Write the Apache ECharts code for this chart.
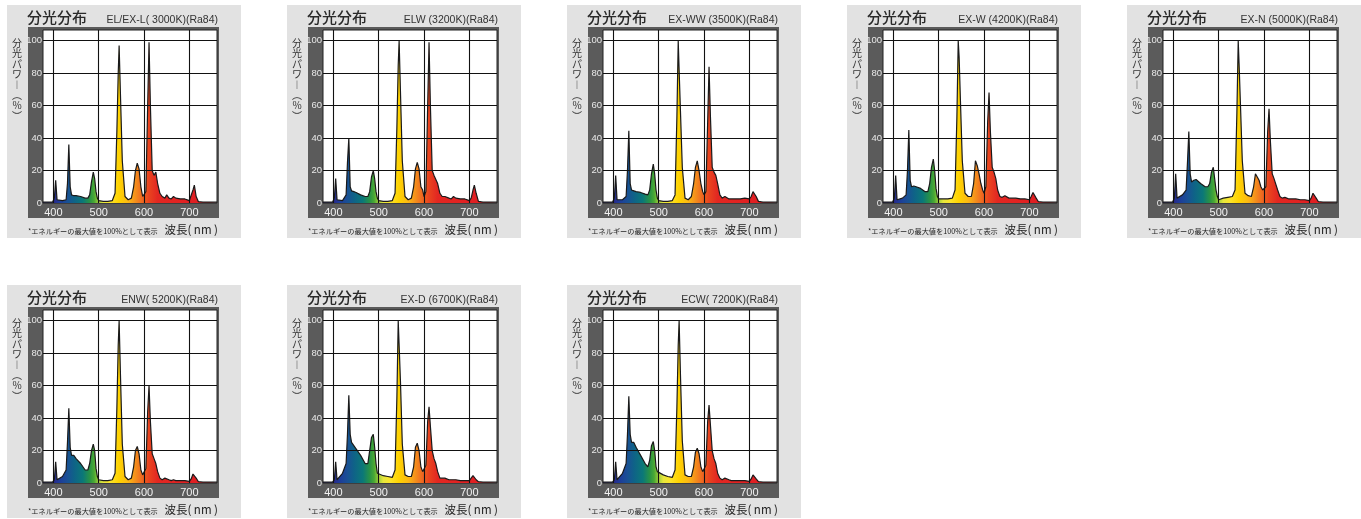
<!DOCTYPE html>
<html><head><meta charset="utf-8">
<script src="https://cdn.jsdelivr.net/npm/echarts@6/dist/echarts.min.js"></script>
<style>html,body{margin:0;padding:0;background:#fff}#c{width:1361px;height:519px}</style>
</head><body><div id="c"></div>
<script>
// ---- data ----
const wavelengths = [377, 398, 402, 405, 408, 412, 420, 428, 431, 434, 437, 440, 445, 450, 460, 470, 476, 480, 484, 488, 491, 494, 497, 500, 510, 520, 530, 536, 540, 543, 545, 548, 552, 558, 565, 572, 577, 581, 585, 589, 593, 597, 600, 604, 608, 611, 614, 618, 622, 626, 630, 635, 640, 646, 650, 655, 660, 665, 670, 680, 690, 700, 704, 708, 711, 715, 720, 730, 745, 761];

const elExL3000 = [0.5,0.5,3,14,2,1,1.5,2,12,36, 10,5,4.5,4.5,4,3,3,5,13,19, 15,7,3,1.5,1,1,1.5,6,44,80, 97,66,26,4,2,3,10,20,24.5,21, 10,4,3,7,60,99,60,20,17,19, 12,6,4,3,5,3,2.5,4,3,2.5, 2.5,1.5,2,8,11,4,0.8,0.5,0.5,0.5];
const elw3200 = [0.5,0.5,3,15,2,1,1.5,5,25,40, 10,7.5,7,6.5,5,4,4,7,16,20, 15,7,3,1.5,1,1,1.5,6,46,85, 100,68,26,4,2,3,10,21,25,21, 10,8,4,7,60,99,60,20,17,18, 12,6,4,4,5,3,2.5,4,3,2.5, 2.5,1.5,3,8,11,6,1,0.5,0.5,0.5];
const exWw3500 = [0.5,0.5,3,17,2,1.5,2,4,20,44.5, 12,8,7.5,7,6.5,5.5,5,8,18,24, 18,8,3,1.5,1,1,1.5,5,52,100, 82,56,22,3,2,4,12,22,26,20, 12,7,5,7,50,84,54,22,19,17, 12,5,3,4,3,2.5,2.5,2.5,2.5,2.5, 3,2.5,4,7,8,4,1,0.5,0.5,0.5];
const exW4200 = [0.5,0.5,3,17,2,1.5,3,5,20,45, 14,10,10.5,10,9,7,7,12,22,27, 20,9,4,2.5,2.5,2.5,3,8,52,100, 90,62,26,6,4,4,12,26,23,18, 12,8,6,10,50,68,44,22,19,15, 8,4,3.5,4.5,3.5,3,3,3,3,2.5, 2.5,2,4,6.5,6,3,0.8,0.5,0.5,0.5];
const exN5000 = [0.5,0.5,3,18,3,2,5,8,25,44, 18,13,14,14.5,12,10,10,12,19,22, 15,8,4,2,3,3.5,4,8,55,100, 85,60,26,6,4.5,4,10,18,19,14, 10,8,7,10,44,58,38,18,15,14, 8,4,3,3.5,3,2.5,2.5,2.5,2.5,2, 2,1.5,3,6,6,3,0.8,0.5,0.5,0.5];
const enw5200 = [0.5,0.5,2,13,2,1,4,8,25,46, 22,17,17,15,12,8,8,12,20,24, 20,9,4,2,1.5,1.5,2,6,46,85, 100,66,24,4,2,3,10,20,22.5,18, 8,5,5,9,44,60,38,18,15,12, 7,3,2,3,2.5,2,1.5,2,1.5,1.5, 1.5,1,2.5,5.5,6,3,0.8,0.5,0.5,0.5];
const exD6700 = [0.5,0.5,2,13,2,2.5,6,12,30,54, 30,25,23,21,17,12,12,20,28,30, 22,12,6,5,4.5,4,3.5,8,52,100, 85,62,24,5,4,4,10,22,24.5,20, 10,7,7,11,38,47,35,20,15,12, 7,3,3,3,2.5,2,2,2,2,1.5, 1.5,1.5,3,4.5,4,2,0.8,0.5,0.5,0.5];
const ecw7200 = [0.5,0.5,2,13,2,2,6,12,30,53.5, 30,25,25,22,17,12,10,14,23,25.5, 20,10,7,6,5,4,3.5,8,46,85, 100,66,26,5,4,4,10,19,21.4,18, 10,7,7,11,38,48,36,20,15,12, 6,3,2,3,2.5,2,1.5,1.5,1.5,1.5, 1.5,1,2.5,5,5.5,2.5,0.8,0.5,0.5,0.5];

const panelTitles = ['EL/EX-L( 3000K)(Ra84)', 'ELW (3200K)(Ra84)', 'EX-WW (3500K)(Ra84)', 'EX-W (4200K)(Ra84)', 'EX-N (5000K)(Ra84)', 'ENW( 5200K)(Ra84)', 'EX-D (6700K)(Ra84)', 'ECW( 7200K)(Ra84)'];
const panelValues = [elExL3000, elw3200, exWw3500, exW4200, exN5000, enw5200, exD6700, ecw7200];

const xTickLabels = [400, 500, 600, 700];
const yGridValues = [20, 40, 60, 80, 100];
const heading = '分光分布';
const yName = '分\n光\nパ\nワ\n︱\n︵\n%\n︶';
const footNote = '*エネルギーの最大値を100%として表示';
const xName = '波長( nm )';

// wavelength -> colour stops
const spectrumStops = [
  [377, '#202070'], [400, '#28288a'], [415, '#1d3d99'], [430, '#1a4f95'], [445, '#0f6288'],
  [465, '#0b7878'], [480, '#289246'], [490, '#4aa934'], [500, '#a6d03c'], [510, '#e6e63c'],
  [525, '#fbe42a'], [545, '#ffd200'], [565, '#fcb814'], [580, '#f5921c'], [595, '#ef6a20'],
  [610, '#e9451f'], [630, '#e32722'], [761, '#df1a22']
];

// ---- chart ----
const chart = echarts.init(document.getElementById('c'), null, {renderer: 'canvas'});
const wMin = wavelengths[0], wMax = wavelengths[wavelengths.length - 1];
const gradStops = spectrumStops.map(s => ({offset: (s[0] - wMin) / (wMax - wMin), color: s[1]}));

const grids = [], xAxes = [], yAxes = [], series = [], elements = [];
const CJK = '"Noto Sans CJK JP", "Noto Sans", sans-serif';
const LAT = '"Liberation Sans", Arial, sans-serif';

panelValues.forEach((vals, i) => {
  const col = i < 5 ? i : i - 5;
  const row = i < 5 ? 0 : 1;
  const gx = 7 + 280 * col;
  const gy = 5 + 280 * row;

  elements.push({type: 'rect', z: -10, silent: true, shape: {x: gx, y: gy, width: 234, height: 233}, style: {fill: '#e2e2e2'}});
  elements.push({type: 'rect', z: -9, silent: true, shape: {x: gx + 21, y: gy + 22, width: 191, height: 191}, style: {fill: '#5b5b5b'}});
  elements.push({type: 'text', z: 5, silent: true, style: {text: heading, x: gx + 20, y: gy + 12, font: '500 15px ' + CJK, fill: '#2a2a2a', textAlign: 'left', textVerticalAlign: 'middle'}});
  elements.push({type: 'text', z: 5, silent: true, style: {text: panelTitles[i], x: gx + 211, y: gy + 15, font: '10.5px ' + LAT, fill: '#333', textAlign: 'right', textVerticalAlign: 'middle'}});
  elements.push({type: 'text', z: 5, silent: true, style: {text: yName, x: gx + 10, y: gy + 33, font: '10px ' + CJK, lineHeight: 10.4, fill: '#333', textAlign: 'center', textVerticalAlign: 'top'}});
  elements.push({type: 'text', z: 5, silent: true, style: {text: footNote, x: gx + 21, y: gy + 226, font: '7.2px ' + CJK, fill: '#222', textAlign: 'left', textVerticalAlign: 'middle'}});
  elements.push({type: 'text', z: 5, silent: true, style: {text: xName, x: gx + 211, y: gy + 225, font: '11.5px ' + CJK, fill: '#222', textAlign: 'right', textVerticalAlign: 'middle'}});

  grids.push({left: gx + 36, top: gy + 25, width: 174, height: 173, show: true, backgroundColor: '#ffffff', borderColor: '#222', borderWidth: 1, z: 1});
  xAxes.push({
    type: 'value', gridIndex: i, min: wMin, max: wMax, z: 3,
    axisLine: {show: false}, axisTick: {show: false}, splitLine: {show: false},
    axisLabel: {customValues: xTickLabels, color: '#f2f2f2', fontSize: 11, fontFamily: 'Liberation Sans', margin: 4}
  });
  yAxes.push({
    type: 'value', gridIndex: i, min: 0, max: 106.6, interval: 20, z: 3,
    axisLine: {show: false}, axisTick: {show: false}, splitLine: {show: false},
    axisLabel: {color: '#e8e8e8', fontSize: 9.5, fontFamily: 'Liberation Sans', margin: 1,
      formatter: v => (Math.abs(v % 20) < 1e-6 && v <= 100 ? String(v) : '')}
  });
  series.push({
    type: 'line', xAxisIndex: i, yAxisIndex: i, z: 2,
    data: wavelengths.map((w, k) => [w, vals[k]]),
    symbol: 'none', smooth: false,
    lineStyle: {color: '#1a1a1a', width: 1.2},
    areaStyle: {opacity: 1, color: new echarts.graphic.LinearGradient(0, 0, 1, 0, gradStops)},
    markLine: {
      silent: true, symbol: ['none', 'none'], label: {show: false},
      lineStyle: {color: '#111', type: 'solid', width: 1.1}, animation: false,
      data: xTickLabels.map(v => ({xAxis: v})).concat(yGridValues.map(v => ({yAxis: v})))
    }
  });
});

chart.setOption({
  animation: false,
  backgroundColor: '#ffffff',
  grid: grids, xAxis: xAxes, yAxis: yAxes, series: series,
  graphic: {elements: elements}
});
</script></body></html>
